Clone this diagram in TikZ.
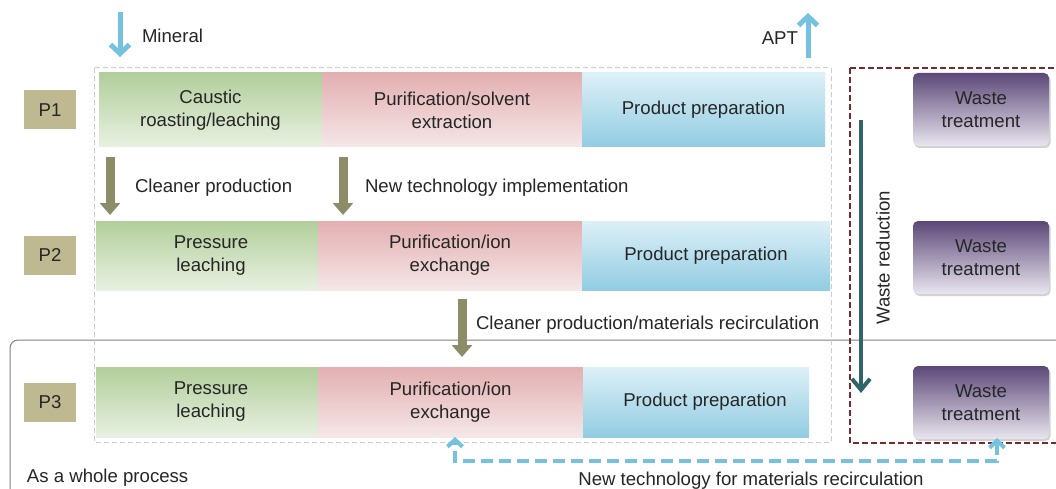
\documentclass[tikz,border=0pt]{standalone}
\usepackage{fontspec}
\setmainfont{Liberation Sans}
\usetikzlibrary{arrows.meta,positioning,shadows}
\definecolor{txtgray}{HTML}{262626}
\definecolor{leachtop}{HTML}{B2CE9B}
\definecolor{leachbot}{HTML}{E9F1E2}
\definecolor{puritop}{HTML}{E3AFB1}
\definecolor{puribot}{HTML}{F5E7E8}
\definecolor{prodtop}{HTML}{DDF0F7}
\definecolor{prodbot}{HTML}{92CCE2}
\definecolor{pbox}{HTML}{BEB991}
\definecolor{wastetop}{HTML}{5C4878}
\definecolor{wastebot}{HTML}{E9E6EF}
\definecolor{feedblue}{HTML}{74C2DF}
\definecolor{stepolive}{HTML}{8C8D68}
\definecolor{reduteal}{HTML}{2F6568}
\definecolor{wastered}{HTML}{7A2A2C}
\tikzset{
  basic/.style  = {inner sep=0pt, outer sep=0pt, align=center, text=txtgray,
                   font=\fontsize{18.6}{23}\selectfont},
  leach/.style  = {basic, top color=leachtop, bottom color=leachbot},
  purif/.style  = {basic, top color=puritop, bottom color=puribot},
  prod/.style   = {basic, top color=prodtop, bottom color=prodbot},
  plabel/.style = {basic, fill=pbox, minimum width=52pt, minimum height=39pt},
  waste/.style  = {basic, rounded corners=5pt, top color=wastetop, bottom color=wastebot,
                   minimum width=136pt, minimum height=73pt,
                   drop shadow={shadow xshift=1.5pt, shadow yshift=-2pt, opacity=.35}},
  lbl/.style    = {basic, anchor=west},
  feed/.style   = {draw=feedblue, line width=5pt, -{Straight Barb[length=9pt,width=19pt]}},
  stepdown/.style = {draw=stepolive, line width=9pt, -{Triangle[length=12pt,width=20pt]}},
  reduce/.style = {draw=reduteal, line width=4pt, -{Straight Barb[length=11pt,width=18pt]}},
  recycle/.style = {draw=feedblue, line width=4pt, dash pattern=on 12pt off 6pt,
                   {Straight Barb[length=7pt,width=15pt]}-{Straight Barb[length=7pt,width=15pt]}}
}

\begin{document}
\begin{tikzpicture}[x=1pt,y=-1pt]
\clip (0,0) rectangle (1056,489);
\fill[white] (0,0) rectangle (1056,489);

% frames
\draw[gray, line width=1pt, rounded corners=8pt] (10,340) rectangle (1090,530);
\draw[black!20, line width=1pt, dash pattern=on 5pt off 3pt] (94,68) rectangle (831,442);
\draw[wastered, line width=1.5pt, dash pattern=on 6pt off 3pt] (850,68) rectangle (1090,443);

% process rows
\node[leach, minimum width=223pt, minimum height=74pt, anchor=north west] (c11) at (99,73)
  {Caustic\\roasting/leaching};
\node[purif, minimum width=260pt, minimum height=74pt, right=0pt of c11] (c12)
  {Purification/solvent\\extraction};
\node[prod, minimum width=243pt, minimum height=74pt, right=0pt of c12] (c13)
  {Product preparation};

\node[leach, minimum width=222pt, minimum height=69pt, anchor=north west] (c21) at (96,221)
  {\hspace*{8pt}Pressure\\\hspace*{8pt}leaching};
\node[purif, minimum width=264pt, minimum height=69pt, right=0pt of c21] (c22)
  {Purification/ion\\exchange};
\node[prod, minimum width=248pt, minimum height=69pt, right=0pt of c22] (c23)
  {Product preparation};

\node[leach, minimum width=222pt, minimum height=70pt, anchor=north west] (c31) at (96,367)
  {\hspace*{8pt}Pressure\\\hspace*{8pt}leaching};
\node[purif, minimum width=265pt, minimum height=70pt, right=0pt of c31] (c32)
  {Purification/ion\\exchange};
\node[prod, minimum width=226pt, minimum height=70pt, right=0pt of c32] (c33)
  {\hspace*{18pt}Product preparation};

% P labels
\node[plabel] (p1) at (50,110) {P1};
\node[plabel] (p2) at (50,255.5) {P2};
\node[plabel] (p3) at (50,402) {P3};

% waste side
\node[waste, anchor=north west] (w1) at (913,73) {Waste\\treatment};
\node[waste, anchor=north west] (w2) at (913,221) {Waste\\treatment};
\node[waste, anchor=north west] (w3) at (913,366) {Waste\\treatment};

% texts
\node[lbl] (tmin) at (142,36) {Mineral};
\node[basic, anchor=east] (tapt) at (798,38) {APT};
\node[lbl] (tcp) at (135,188) {Cleaner production};
\node[lbl] (tnt) at (365,188) {New technology implementation};
\node[lbl] (tcm) at (476,325) {Cleaner production/materials recirculation};
\node[lbl] (twp) at (27,478) {As a whole process};
\node[basic] (tnr) at (751,481) {New technology for materials recirculation};
\node[basic, rotate=90] (twr) at (883,258) {Waste reduction};

% arrows
\coordinate (m1) at (120,12);  \coordinate (m2) at (120,57);
\coordinate (a1) at (808,58);  \coordinate (a2) at (808,13);
\coordinate (s1) at (110,157); \coordinate (s2) at (110,215);
\coordinate (n1) at (343,157); \coordinate (n2) at (343,215);
\coordinate (k1) at (462,299); \coordinate (k2) at (462,357);
\coordinate (d1) at (861,120); \coordinate (d2) at (861,393);
\coordinate (r1) at (997,438); \coordinate (r2) at (455,437);

\draw[feed] (m1) -- (m2);
\draw[feed] (a1) -- (a2);
\foreach \from/\to in {s1/s2, n1/n2, k1/k2}
  \draw[stepdown] (\from) -- (\to);
\draw[reduce] (d1) -- (d2);
\draw[recycle] (r1) -- ++(0,23) -| (r2);

\end{tikzpicture}
\end{document}
